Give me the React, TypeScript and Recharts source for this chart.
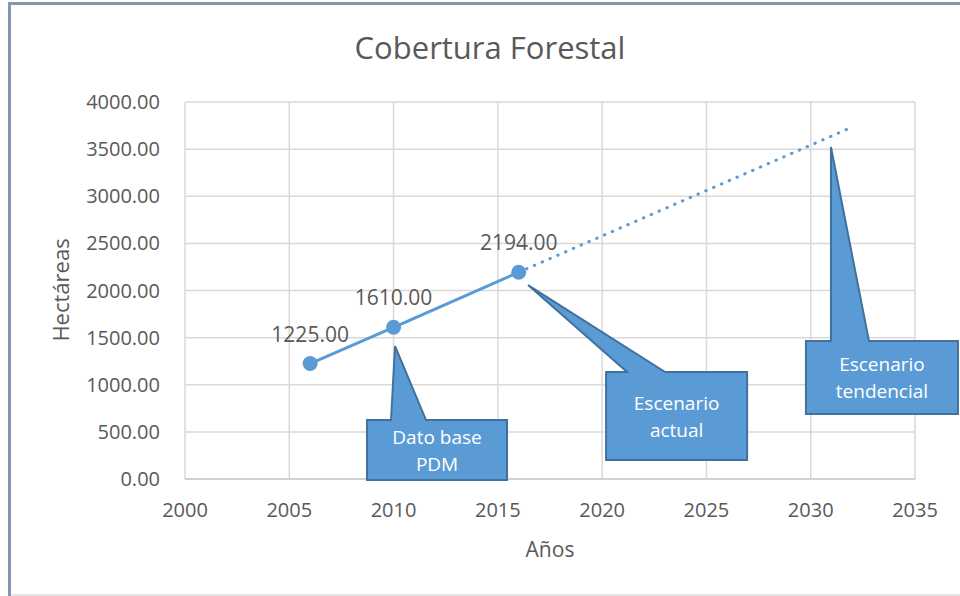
import { LineChart, Line, XAxis, YAxis, CartesianGrid, LabelList, ReferenceDot } from 'recharts';

const years = [2006, 2010, 2016, 2032];
const coverage = [1225, 1610, 2194, null];
const trend = [null, null, 2194, 3735];

const xTicks = [2000, 2005, 2010, 2015, 2020, 2025, 2030, 2035];
const yTicks = [0, 500, 1000, 1500, 2000, 2500, 3000, 3500, 4000];

// callouts: where the pointer tip sits (data units) and the text in the box
const calloutTips = [
  { year: 2010.07, value: 1411, lines: ['Dato base', 'PDM'] },
  { year: 2016.45, value: 2058, lines: ['Escenario', 'actual'] },
  { year: 2030.97, value: 3522, lines: ['Escenario', 'tendencial'] },
];
// box geometry relative to the tip, in px
const calloutBoxes = [
  { left: -28, top: 74, w: 140, h: 60, b1: 24, b2: 59 },
  { left: 78, top: 87, w: 141, h: 88, b1: 21, b2: 59 },
  { left: -25, top: 194, w: 152, h: 73, b1: 25, b2: 63 },
];

const data = years.map((y, i) => ({ year: y, value: coverage[i], trend: trend[i] }));

const FONT = '"Open Sans", sans-serif';
const GREY = '#595959';
const BLUE = '#5b9bd5';

const Callout = (props: any) => {
  const { cx, cy, idx } = props;
  if (cx == null || cy == null) return null;
  const b = calloutBoxes[idx];
  const lines = calloutTips[idx].lines;
  const x0 = cx + b.left;
  const y0 = cy + b.top;
  const x1 = x0 + b.w;
  const y1 = y0 + b.h;
  const d = `M${x0},${y0} L${x0 + b.b1},${y0} L${cx},${cy} L${x0 + b.b2},${y0} L${x1},${y0} L${x1},${y1} L${x0},${y1} Z`;
  const mid = (y0 + y1) / 2;
  return (
    <g>
      <path d={d} fill={BLUE} stroke="#41719c" strokeWidth={2} strokeLinejoin="miter" />
      {lines.map((t, i) => (
        <text
          key={i}
          x={(x0 + x1) / 2}
          y={mid + (i - (lines.length - 1) / 2) * 27}
          textAnchor="middle"
          dominantBaseline="central"
          fill="#ffffff"
          fontSize={19}
          fontFamily={FONT}
        >
          {t}
        </text>
      ))}
    </g>
  );
};

export default function App() {
  return (
    <div style={{ position: 'absolute', left: 0, top: 0, width: 960, height: 596, background: '#fff', fontFamily: FONT, overflow: 'hidden' }}>
      <div style={{ position: 'absolute', left: 8, top: 2, width: 952, height: 3, background: '#8497b0' }} />
      <div style={{ position: 'absolute', left: 8, top: 2, width: 3, height: 594, background: '#8497b0' }} />
      <div style={{ position: 'absolute', left: 11, top: 594, width: 949, height: 2, background: '#e6e6e6' }} />
      <div
        style={{
          position: 'absolute',
          left: 490,
          top: 47,
          transform: 'translate(-50%, -50%)',
          whiteSpace: 'nowrap',
          fontSize: 31,
          lineHeight: 1,
          color: GREY,
        }}
      >
        Cobertura Forestal
      </div>
      <div
        style={{
          position: 'absolute',
          left: 60,
          top: 290,
          transform: 'translate(-50%, -50%) rotate(-90deg)',
          whiteSpace: 'nowrap',
          fontSize: 22,
          lineHeight: 1,
          color: GREY,
        }}
      >
        Hectáreas
      </div>
      <div style={{ position: 'absolute', left: 0, top: 0 }}>
        <LineChart width={960} height={596} data={data} margin={{ top: 102, right: 45, left: 45, bottom: 37 }}>
          <CartesianGrid stroke="#d9d9d9" strokeWidth={1.5} />
          <XAxis
            dataKey="year"
            type="number"
            domain={[2000, 2035]}
            ticks={xTicks}
            height={80}
            tickLine={false}
            tickMargin={18}
            stroke="#bfbfbf"
            tick={{ fill: GREY, fontSize: 20 }}
            label={{ value: 'Años', position: 'insideBottom', offset: 2, fill: GREY, fontSize: 21 }}
          />
          <YAxis
            type="number"
            domain={[0, 4000]}
            ticks={yTicks}
            width={140}
            axisLine={false}
            tickLine={false}
            tickMargin={19}
            tick={{ fill: GREY, fontSize: 20 }}
            tickFormatter={(v: number) => v.toFixed(2)}
          />
          <Line
            dataKey="trend"
            stroke={BLUE}
            strokeWidth={3}
            strokeDasharray="0.5 8"
            strokeLinecap="round"
            dot={false}
            activeDot={false}
            isAnimationActive={false}
          />
          <Line
            dataKey="value"
            stroke={BLUE}
            strokeWidth={3}
            dot={{ r: 7.5, fill: BLUE, stroke: BLUE, strokeWidth: 0 }}
            activeDot={false}
            isAnimationActive={false}
          >
            <LabelList
              dataKey="value"
              position="top"
              offset={22}
              fill={GREY}
              fontSize={21}
              formatter={(v: any) => (v == null ? '' : Number(v).toFixed(2))}
            />
          </Line>
          {calloutTips.map((c, i) => (
            <ReferenceDot
              key={i}
              x={c.year}
              y={c.value}
              ifOverflow="visible"
              shape={(p: any) => <Callout {...p} idx={i} />}
            />
          ))}
        </LineChart>
      </div>
    </div>
  );
}
